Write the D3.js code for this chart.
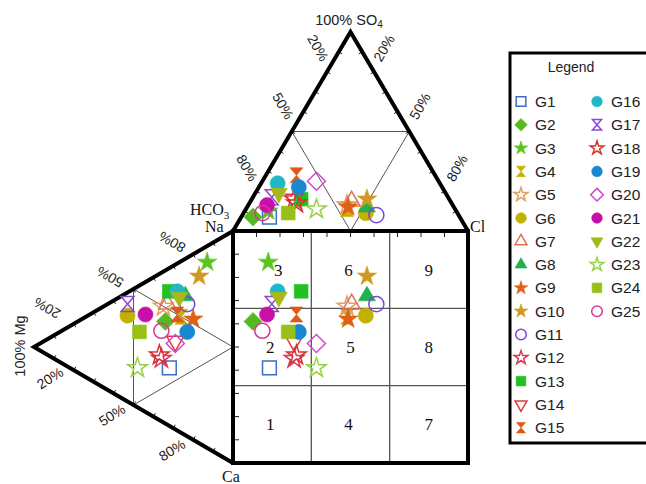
<!DOCTYPE html>
<html>
<head>
<meta charset="utf-8">
<script src="https://cdn.jsdelivr.net/npm/d3@7"></script>
<style>
  body { margin: 0; background: #fff; }
  svg { display: block; }
</style>
</head>
<body>
<svg id="chart" width="646" height="484"></svg>
<script>
// Groundwater samples (Durov plot): ionic composition in % meq/L
const samples = ["G1","G2","G3","G4","G5","G6","G7","G8","G9","G10","G11","G12","G13",
                 "G14","G15","G16","G17","G18","G19","G20","G21","G22","G23","G24","G25"];
// anions
const so4 = [7, 7, 10, 11, 13, 9, 15, 12, 12, 16, 8, 16, 16, 16, 28, 24, 17, 14, 22, 25, 13, 19, 11, 9, 9];
const cl  = [12, 5, 10, 43, 42, 52, 43, 51, 43, 49, 57, 18, 21, 18, 13, 7, 8, 20, 17, 23, 8, 10, 30, 19, 8];
// cations
const mg  = [32, 34, 13, 26, 35, 53, 33, 24, 20, 17, 23, 36, 32, 29, 28, 28, 53, 37, 23, 29, 44, 27, 48, 47, 36];
const na  = [25, 44, 80, 50, 50, 37, 52, 60, 52, 72, 57, 27, 58, 38, 50, 60, 42, 28, 45, 37, 42, 58, 17, 33, 39];

const colors = ["#3b6cc8","#58b820","#5cc420","#c8b000","#e0a060","#c2b200","#e07050","#20b050",
                "#e06018","#d09a20","#7848d8","#d83858","#22c020","#e03838","#e05818","#20b8c8",
                "#8848d8","#d83030","#1888d0","#d048d0","#c810a8","#a8b818","#98d048","#98c018","#d83898"];
const shapes = ["square","diamond","star","hourglass","star","circle","triangle","triangle",
                "star","star","circle","star","square","triangleDown","hourglass","circle",
                "hourglass","star","circle","diamond","circle","triangleDown","star","square","circle"];
const filled = [false,true,true,true,false,true,false,true,true,true,false,false,true,false,true,true,
                false,false,true,false,true,true,false,true,false];

// fields of the central square
const zoneLabels = ["1","2","3","4","5","6","7","8","9"];
const zoneCol    = [0, 0, 0, 1, 1, 1, 2, 2, 2];
const zoneRow    = [2, 1, 0, 2, 1, 0, 2, 1, 0];
const zoneShift  = [0, 0, 8, 0, 2, 0, 2, 2, 2];

const pctLabels = ["20%", "50%", "80%"];

const svg = d3.select("#chart");

// ---- scales ----
// upper (anion) triangle: Cl + SO4/2 horizontally, SO4 vertically
const upX = d3.scaleLinear().domain([0, 100]).range([233, 468]);
const upY = d3.scaleLinear().domain([0, 100]).range([231, 32]);
// left (cation) triangle: Mg horizontally, Na + Mg/2 vertically
const lfX = d3.scaleLinear().domain([0, 100]).range([233, 34]);
const lfY = d3.scaleLinear().domain([0, 100]).range([463, 231]);

const Na = [upX(0), upY(0)], Cl = [upX(100), upY(0)], S = [upX(50), upY(100)];
const Mg = [lfX(100), lfY(50)], Ca = [lfX(0), lfY(0)];
const sqL = upX(0), sqR = upX(100), sqT = lfY(100), sqB = lfY(0);

const line = d3.line();
const mid = (a, b) => [(a[0] + b[0]) / 2, (a[1] + b[1]) / 2];

// ---- inner guide lines ----
const guides = svg.append("g").attr("fill", "none").attr("stroke", "#555").attr("stroke-width", 1);
{
  const m1 = mid(Na, S), m2 = mid(S, Cl), m3 = mid(Na, Cl);
  guides.append("path").attr("d", line([m1, m2, m3, m1]));
  const l1 = mid(Mg, Na), l2 = mid(Mg, Ca), l3 = mid(Na, Ca);
  guides.append("path").attr("d", line([l1, l2, l3, l1]));
}
// square grid
const grid = svg.append("g").attr("stroke", "#555").attr("stroke-width", 1.3);
[1, 2].forEach(k => {
  const gx = sqL + (sqR - sqL) * k / 3;
  const gy = sqT + (sqB - sqT) * k / 3;
  grid.append("line").attr("x1", gx).attr("x2", gx).attr("y1", sqT).attr("y2", sqB);
  grid.append("line").attr("x1", sqL).attr("x2", sqR).attr("y1", gy).attr("y2", gy);
});

// ---- tick marks ----
const ticks = svg.append("g").attr("stroke", "#222").attr("stroke-width", 1);
function edgeTicks(p, q, inside, len) {
  const dx = q[0] - p[0], dy = q[1] - p[1], L = Math.hypot(dx, dy);
  let nx = -dy / L, ny = dx / L;
  const c = [(p[0] + q[0]) / 2 - inside[0], (p[1] + q[1]) / 2 - inside[1]];
  if (nx * c[0] + ny * c[1] > 0) { nx = -nx; ny = -ny; }
  d3.range(1, 10).forEach(k => {
    const x = p[0] + dx * k / 10, y = p[1] + dy * k / 10;
    ticks.append("line").attr("x1", x).attr("y1", y)
      .attr("x2", x + nx * len).attr("y2", y + ny * len);
  });
}
const upC = [(Na[0] + Cl[0] + S[0]) / 3, (Na[1] + Cl[1] + S[1]) / 3];
const lfC = [(Na[0] + Ca[0] + Mg[0]) / 3, (Na[1] + Ca[1] + Mg[1]) / 3];
edgeTicks(Na, S, upC, 4);
edgeTicks(S, Cl, upC, 4);
edgeTicks(Mg, Na, lfC, 4);
edgeTicks(Mg, Ca, lfC, 4);
const sqC = [(sqL + sqR) / 2, (sqT + sqB) / 2];
edgeTicks([sqL, sqT], [sqR, sqT], sqC, 6);
edgeTicks([sqL, sqT], [sqL, sqB], sqC, 6);

// ---- heavy outlines ----
const frame = svg.append("g").attr("fill", "none").attr("stroke", "#000")
  .attr("stroke-width", 4).attr("stroke-linejoin", "miter");
frame.append("path").attr("d", line([Na, S, Cl]));
frame.append("path").attr("d", line([Na, Mg, Ca]));
frame.append("rect").attr("x", sqL).attr("y", sqT).attr("width", sqR - sqL).attr("height", sqB - sqT);

// ---- field numbers ----
svg.append("g").attr("font-family", "Liberation Serif, Times New Roman, serif")
  .attr("font-size", 17).attr("fill", "#111").attr("text-anchor", "middle")
  .selectAll("text").data(zoneLabels).join("text")
  .attr("x", (d, i) => sqL + (sqR - sqL) * (zoneCol[i] + 0.5) / 3 + zoneShift[i] - 2)
  .attr("y", (d, i) => sqT + (sqB - sqT) * (zoneRow[i] + 0.5) / 3 + 6)
  .text(d => d);

// ---- axis labels ----
const pctG = svg.append("g").attr("font-family", "Liberation Sans, Arial, sans-serif")
  .attr("font-size", 14).attr("fill", "#222").attr("text-anchor", "middle")
  .attr("dominant-baseline", "central");
function pct(txt, x, y, rot) {
  pctG.append("text").attr("transform", `translate(${x},${y}) rotate(${rot})`).text(txt);
}
const upLeftPos  = [[318, 48], [283, 106], [247, 168]];
const upRightPos = [[384, 48], [420, 106], [457, 168]];
const lfUpPos    = [[47, 308], [110, 277], [172, 242]];
const lfLowPos   = [[50, 378], [112, 415], [172, 450]];
pctLabels.forEach((t, i) => {
  pct(t, upLeftPos[i][0], upLeftPos[i][1], 60);
  pct(t, upRightPos[i][0], upRightPos[i][1], -60);
  pct(t, lfUpPos[i][0], lfUpPos[i][1], 210);
  pct(t, lfLowPos[i][0], lfLowPos[i][1], -32);
});

const so4Label = svg.append("text").attr("x", 349).attr("y", 25)
  .attr("font-family", "Liberation Sans, Arial, sans-serif").attr("font-size", 14.5)
  .attr("fill", "#222").attr("text-anchor", "middle");
so4Label.append("tspan").text("100% SO");
so4Label.append("tspan").attr("font-size", 10).attr("dy", 3).text("4");

svg.append("text").attr("transform", "translate(20,346) rotate(-90)")
  .attr("font-family", "Liberation Sans, Arial, sans-serif").attr("font-size", 14.5)
  .attr("fill", "#222").attr("text-anchor", "middle").attr("dominant-baseline", "central")
  .text("100% Mg");

const serif = svg.append("g").attr("font-family", "Liberation Serif, Times New Roman, serif")
  .attr("font-size", 16).attr("fill", "#111");
const hco3 = serif.append("text").attr("x", 190).attr("y", 215);
hco3.append("tspan").text("HCO");
hco3.append("tspan").attr("font-size", 11).attr("dy", 4).text("3");
serif.append("text").attr("x", 205).attr("y", 232).text("Na");
serif.append("text").attr("x", 470).attr("y", 232).text("Cl");
serif.append("text").attr("x", 222).attr("y", 482).text("Ca");

// ---- marker shapes ----
function shapePath(kind, k) {
  switch (kind) {
    case "square":   return d3.symbol(d3.symbolSquare, 190 * k * k)();
    case "circle":   return d3.symbol(d3.symbolCircle, 180 * k * k)();
    case "star":     return d3.symbol(d3.symbolStar, 118 * k * k)();
    case "triangle": return d3.symbol(d3.symbolTriangle, 125 * k * k)();
    case "triangleDown": return d3.symbol(d3.symbolTriangle, 125 * k * k)();
    case "diamond": {
      const r = 9 * k;
      return `M0,${-r}L${r},0L0,${r}L${-r},0Z`;
    }
    case "hourglass": {
      const w = 6.5 * k, h = 7.5 * k;
      return `M${-w},${-h}L${w},${-h}L0,0L${w},${h}L${-w},${h}L0,0Z`;
    }
  }
}
function drawMarker(g, i, x, y, k) {
  g.append("path")
    .attr("d", shapePath(shapes[i], k))
    .attr("transform", `translate(${x},${y})${shapes[i] === "triangleDown" ? " rotate(180)" : ""}`)
    .attr("fill", filled[i] ? colors[i] : "none")
    .attr("stroke", colors[i])
    .attr("stroke-width", filled[i] ? 0.6 : 1.5)
    .attr("stroke-linejoin", "miter");
}

// ---- samples in the three panels ----
const pts = svg.append("g");
samples.forEach((s, i) => {
  const ax = upX(cl[i] + so4[i] / 2), ay = upY(so4[i]);
  const cx = lfX(mg[i]), cy = lfY(na[i] + mg[i] / 2);
  drawMarker(pts, i, ax, ay, 1);
  drawMarker(pts, i, cx, cy, 1);
  drawMarker(pts, i, ax, cy, 1);
});

// ---- legend ----
const leg = svg.append("g");
leg.append("rect").attr("x", 510).attr("y", 53).attr("width", 160).attr("height", 390)
  .attr("fill", "#fff").attr("stroke", "#000").attr("stroke-width", 3);
leg.append("text").attr("x", 571).attr("y", 72).attr("text-anchor", "middle")
  .attr("font-family", "Liberation Sans, Arial, sans-serif").attr("font-size", 14)
  .attr("fill", "#222").text("Legend");
samples.forEach((s, i) => {
  const col = i < 15 ? 0 : 1, row = i < 15 ? i : i - 15;
  const ix = col ? 597 : 521, y = 101.5 + row * 23.3;
  drawMarker(leg, i, ix, y, 0.7);
  leg.append("text").attr("x", ix + 14).attr("y", y).attr("dominant-baseline", "central")
    .attr("font-family", "Liberation Sans, Arial, sans-serif").attr("font-size", 15.5)
    .attr("fill", "#222").text(s);
});
</script>
</body>
</html>
